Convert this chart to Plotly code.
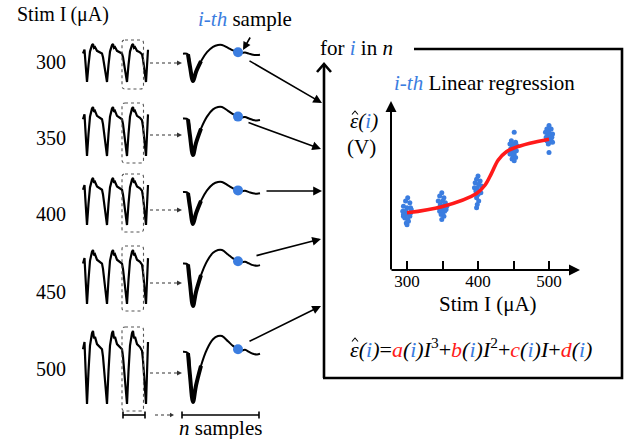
import plotly.graph_objects as go

# ---------------- data ----------------
stim_levels = [300, 350, 400, 450, 500]

# raw recorded trace template: time offset and normalized depth (0 = peak, 1 = trough)
raw_t = [0, 1.5, 2.5, 4, 5.5, 7, 9, 10, 11, 12, 14, 17, 19, 20,
         24, 25.5, 27, 29, 30, 31, 32, 34, 37, 39, 40,
         44, 45.5, 47, 49, 50, 51, 52, 54, 57, 59, 60,
         63, 64, 65]
raw_v = [0.25, 0.15, 0.5, 1.0, 0.55, 0.2, 0.03, 0.0, 0.1, 0.08, 0.18, 0.22, 0.25, 0.35,
         1.0, 0.55, 0.2, 0.03, 0.0, 0.1, 0.08, 0.18, 0.22, 0.25, 0.35,
         1.0, 0.55, 0.2, 0.03, 0.0, 0.1, 0.08, 0.18, 0.22, 0.27, 0.4,
         1.0, 0.5, 0.15]

# zoomed response window (n samples)
win_t = [0, 5, 7, 10, 13, 18, 24, 30, 35, 39, 45, 50, 55, 58, 62, 66, 70, 74, 77]
win_v = [0.24, 0.26, 0.6, 1.0, 0.75, 0.45, 0.2, 0.05, 0.0, 0.0, 0.08, 0.15, 0.2, 0.22, 0.21, 0.24, 0.27, 0.28, 0.27]
thick_t = [5, 7, 10, 13, 18]
thick_v = [0.26, 0.6, 1.0, 0.75, 0.45]
sample_t = 55
sample_v = 0.2

# i-th sample values vs stimulation current
scatter_x = [301, 298, 304, 295, 300, 305, 294, 298, 302, 306, 295, 300, 304, 297, 301, 299, 302, 300, 295, 305,
             349, 346, 352, 344, 350, 354, 347, 351, 345, 356, 349, 353, 346, 350, 348, 352, 349, 355,
             400, 398, 403, 396, 401, 405, 399, 395, 402, 397, 404, 400, 398, 401, 399, 398,
             451, 447, 453, 445, 449, 455, 448, 452, 446, 450, 454, 447, 451, 445, 449, 453, 448, 451,
             500, 497, 503, 495, 500, 505, 498, 502, 496, 504, 500, 503, 497, 501, 499, 505, 500]
scatter_y = [0.43, 0.41, 0.40, 0.38, 0.37, 0.37, 0.35, 0.35, 0.34, 0.36, 0.33, 0.33, 0.32, 0.31, 0.30, 0.28, 0.29, 0.27, 0.32, 0.34,
             0.46, 0.44, 0.43, 0.41, 0.41, 0.40, 0.39, 0.38, 0.37, 0.38, 0.36, 0.35, 0.35, 0.34, 0.33, 0.32, 0.30, 0.36,
             0.56, 0.54, 0.53, 0.52, 0.51, 0.50, 0.49, 0.49, 0.47, 0.47, 0.46, 0.45, 0.43, 0.41, 0.39, 0.37,
             0.82, 0.77, 0.76, 0.75, 0.75, 0.74, 0.73, 0.73, 0.72, 0.71, 0.71, 0.70, 0.69, 0.69, 0.68, 0.67, 0.66, 0.65,
             0.86, 0.84, 0.84, 0.82, 0.82, 0.81, 0.80, 0.80, 0.79, 0.79, 0.78, 0.77, 0.77, 0.76, 0.75, 0.76, 0.70]

fit_x = [300, 349, 398, 410, 419, 428.5, 440, 449.5, 473, 500]
fit_y = [0.341, 0.377, 0.456, 0.506, 0.575, 0.655, 0.704, 0.724, 0.754, 0.778]

tick_vals = [300, 350, 400, 450, 500]
tick_text = ["300", "", "400", "", "500"]

# ---------------- layout constants (pixels) ----------------
W, H = 624, 439
BLUE = "#3B7DE0"
RED = "#FF1A1A"
FONT = "Liberation Serif, Times New Roman, serif"

label_y = [62, 138, 214, 292, 369]
raw_x0 = 83
raw_top = [44, 107, 178, 250, 331]
raw_bot = [82, 156, 225, 304, 404]
win_x0 = 183
win_top = [45, 107, 182, 250, 336]
win_bot = [81, 155, 224, 306, 402]
dot_arrow_y = [63, 135, 210, 283, 373]
out_tail = [(248, 60), (247, 122), (265, 191), (255, 256), (248, 342)]
out_head = [(322, 103), (321, 149), (322, 191), (321, 239), (321, 306)]

fig = go.Figure()
shapes = []
annotations = []


def B(s):
    return f"<span style='color:{BLUE}'>{s}</span>"


def R(s):
    return f"<span style='color:{RED}'>{s}</span>"


def rrect(x0, y0, x1, y1, r=3):
    return (f"M {x0+r},{y0} L {x1-r},{y0} Q {x1},{y0} {x1},{y0+r} L {x1},{y1-r} "
            f"Q {x1},{y1} {x1-r},{y1} L {x0+r},{y1} Q {x0},{y1} {x0},{y1-r} "
            f"L {x0},{y0+r} Q {x0},{y0} {x0+r},{y0} Z")


def arrow(tail, head, width=1.6, size=1.0, style=2):
    annotations.append(dict(x=head[0], y=head[1], ax=tail[0], ay=tail[1],
                            xref="x", yref="y", axref="x", ayref="y", text="",
                            showarrow=True, arrowhead=style, arrowsize=size,
                            arrowwidth=width, arrowcolor="black"))


def text(x, y, s, size=20, xanchor="center", yanchor="middle", xref="x", yref="y"):
    annotations.append(dict(x=x, y=y, xref=xref, yref=yref, text=s, showarrow=False,
                            xanchor=xanchor, yanchor=yanchor,
                            font=dict(family=FONT, size=size, color="black")))


def hat(xc, ybase):
    shapes.append(dict(type="path", xref="x", yref="y",
                       path=f"M {xc-3},{ybase} L {xc},{ybase-3.5} L {xc+3},{ybase}",
                       line=dict(color="black", width=1.1)))


dots_x, dots_y = [], []
for k, lvl in enumerate(stim_levels):
    # raw trace
    rx = [raw_x0 + t for t in raw_t]
    ry = [raw_top[k] + v * (raw_bot[k] - raw_top[k]) for v in raw_v]
    fig.add_trace(go.Scatter(x=rx, y=ry, mode="lines", line=dict(color="black", width=2.2),
                             hoverinfo="skip", showlegend=False))
    # dotted selection box around third pulse
    shapes.append(dict(type="path", xref="x", yref="y",
                       path=rrect(122, raw_top[k] - 4, 143.5, raw_bot[k] + 7, 3),
                       line=dict(color="#555", width=1.1, dash="dot")))
    # dotted arrow
    shapes.append(dict(type="line", xref="x", yref="y", x0=150, x1=178,
                       y0=dot_arrow_y[k], y1=dot_arrow_y[k],
                       line=dict(color="#333", width=1.1, dash="dot")))
    shapes.append(dict(type="path", xref="x", yref="y",
                       path=f"M 177,{dot_arrow_y[k]-2.5} L 182,{dot_arrow_y[k]} L 177,{dot_arrow_y[k]+2.5} Z",
                       fillcolor="#333", line=dict(width=0)))
    # zoomed window
    wx = [win_x0 + t for t in win_t]
    wy = [win_top[k] + v * (win_bot[k] - win_top[k]) for v in win_v]
    fig.add_trace(go.Scatter(x=wx, y=wy, mode="lines", line=dict(color="black", width=2.0, shape="spline"),
                             hoverinfo="skip", showlegend=False))
    tx = [win_x0 + t for t in thick_t]
    ty = [win_top[k] + v * (win_bot[k] - win_top[k]) for v in thick_v]
    fig.add_trace(go.Scatter(x=tx, y=ty, mode="lines", line=dict(color="black", width=4.0, shape="spline"),
                             hoverinfo="skip", showlegend=False))
    dots_x.append(win_x0 + sample_t)
    dots_y.append(win_top[k] + sample_v * (win_bot[k] - win_top[k]))
    # label
    text(68, label_y[k], str(lvl), size=20, xanchor="right")
    # arrow to regression box
    arrow(out_tail[k], out_head[k], width=1.6, size=1.1, style=2)

fig.add_trace(go.Scatter(x=dots_x, y=dots_y, mode="markers",
                         marker=dict(color=BLUE, size=10), hoverinfo="skip", showlegend=False))

# regression inset
fig.add_trace(go.Scatter(x=scatter_x, y=scatter_y, mode="markers", xaxis="x2", yaxis="y2",
                         marker=dict(color=BLUE, size=5), hoverinfo="skip", showlegend=False))
fig.add_trace(go.Scatter(x=fit_x, y=fit_y, mode="lines", xaxis="x2", yaxis="y2",
                         line=dict(color=RED, width=3.6, shape="spline", smoothing=1.0),
                         hoverinfo="skip", showlegend=False))

# titles / labels
text(15, 14, "Stim I\u2009(μA)", size=20, xanchor="left")
text(245, 19, B("<i>i-th</i>") + " sample", size=21)
arrow((251, 36), (243, 50), width=1.6, size=1.0, style=2)

# bottom brackets
for (x0, x1) in [(123, 145), (182, 259)]:
    shapes.append(dict(type="line", xref="x", yref="y", x0=x0, x1=x1, y0=415, y1=415,
                       line=dict(color="black", width=1.6)))
    for xx in (x0, x1):
        shapes.append(dict(type="line", xref="x", yref="y", x0=xx, x1=xx, y0=411.5, y1=418.5,
                           line=dict(color="black", width=1.6)))
shapes.append(dict(type="line", xref="x", yref="y", x0=155, x1=171, y0=415, y1=415,
                   line=dict(color="#333", width=1.1, dash="dot")))
shapes.append(dict(type="path", xref="x", yref="y", path="M 170,412.8 L 174,415 L 170,417.2 Z",
                   fillcolor="#333", line=dict(width=0)))
text(220, 428, "<i>n</i> samples", size=21)

# big box
bw = 2.6
shapes.append(dict(type="line", xref="x", yref="y", x0=324, x1=324, y0=378, y1=64.5, line=dict(color="black", width=bw)))
shapes.append(dict(type="path", xref="x", yref="y", path="M 317,72 L 324,64 L 331,72",
                   line=dict(color="black", width=bw)))
shapes.append(dict(type="path", xref="x", yref="y", path="M 414,49 L 622,49 L 622,378 L 323,378",
                   line=dict(color="black", width=bw)))
text(318, 48, "for " + B("<i>i</i>") + " in <i>n</i>", size=21, xanchor="left")

# inset axes arrows
arrow((391, 271), (391, 101), width=2.0, size=1.1, style=2)
arrow((390, 270), (580, 270), width=2.0, size=1.1, style=2)
text(392, 83, B("<i>i-th</i>") + " Linear regression", size=21, xanchor="left")
# epsilon-hat label
text(348, 121, "<i>ε(</i>" + B("<i>i</i>") + "<i>)</i>", size=21, xanchor="left")
hat(355, 114.5)
text(361, 147, "(V)", size=21)
text(488, 304, "Stim I (μA)", size=21)
formula = ("<i>ε(</i>" + B("<i>i</i>") + "<i>)</i>=" + R("<i>a</i>") + "<i>(</i>" + B("<i>i</i>") + "<i>)I</i><sup>3</sup>+"
           + R("<i>b</i>") + "<i>(</i>" + B("<i>i</i>") + "<i>)I</i><sup>2</sup>+"
           + R("<i>c</i>") + "<i>(</i>" + B("<i>i</i>") + "<i>)I</i>+"
           + R("<i>d</i>") + "<i>(</i>" + B("<i>i</i>") + "<i>)</i>")
text(348, 348, formula, size=22, xanchor="left")
hat(355, 341.5)

xr0 = 300 - (407 - 391) / 0.71
xr1 = 500 + (578 - 549) / 0.71

fig.update_layout(
    width=W, height=H, margin=dict(l=0, r=0, t=0, b=0),
    paper_bgcolor="white", plot_bgcolor="rgba(0,0,0,0)",
    xaxis=dict(domain=[0, 1], range=[0, W], visible=False, fixedrange=True),
    yaxis=dict(domain=[0, 1], range=[H, 0], visible=False, fixedrange=True),
    xaxis2=dict(domain=[391 / W, 578 / W], range=[xr0, xr1], anchor="y2",
                tickvals=tick_vals, ticktext=tick_text, ticks="inside", ticklen=9,
                tickwidth=2, tickcolor="black", showline=False, showgrid=False, zeroline=False,
                ticklabelstandoff=-1,
                tickfont=dict(family=FONT, size=17, color="black")),
    yaxis2=dict(domain=[1 - 270 / H, 1 - 102 / H], range=[0, 1], anchor="x2",
                showticklabels=False, ticks="", showgrid=False, zeroline=False, showline=False),
    shapes=shapes, annotations=annotations, showlegend=False,
)

fig.write_html("out.html", config={"displayModeBar": False},
               post_script="document.body.style.margin='0';document.body.style.overflow='hidden';")
